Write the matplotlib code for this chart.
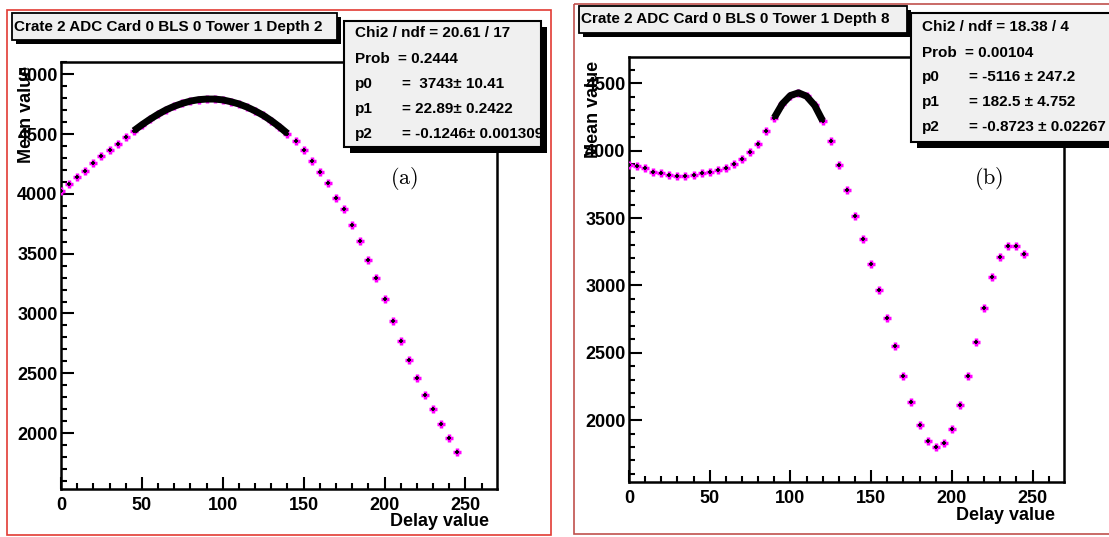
import matplotlib
matplotlib.use("Agg")
import matplotlib.pyplot as plt
from matplotlib.patches import Rectangle
from matplotlib.ticker import MultipleLocator

plt.rcParams["font.family"] = ["Liberation Sans", "DejaVu Sans"]
plt.rcParams["font.weight"] = "bold"
plt.rcParams["mathtext.fontset"] = "cm"

# ---- data ----
delay = list(range(0, 250, 5))

mean_a = [4025, 4083, 4142, 4194, 4256, 4314, 4364, 4419, 4472, 4528,
          4578, 4624, 4666, 4703, 4733, 4757, 4776, 4788, 4793, 4793,
          4786, 4771, 4752, 4726, 4694, 4657, 4612, 4561, 4505,
          4442, 4367, 4278, 4181, 4089, 3969, 3872, 3739, 3608, 3450,
          3294, 3122, 2939, 2767, 2611, 2458, 2319, 2197, 2072, 1956, 1844]

mean_b = [3895, 3889, 3869, 3844, 3832, 3819, 3812, 3812, 3822, 3834,
          3842, 3857, 3874, 3899, 3938, 3988, 4047, 4150,
          4245, 4348, 4410, 4430, 4405, 4337, 4222,
          4072, 3895, 3710, 3515, 3345, 3159, 2966, 2760, 2550, 2327,
          2136, 1963, 1846, 1802, 1827, 1931, 2111, 2327, 2577, 2829,
          3060, 3214, 3295, 3295, 3233]

fit_range_a = (45, 140)
fit_range_b = (90, 120)

titles = ["Crate 2 ADC Card 0 BLS 0 Tower 1 Depth 2",
          "Crate 2 ADC Card 0 BLS 0 Tower 1 Depth 8"]
stats_a = [("Chi2 / ndf = 20.61 / 17", ""), ("Prob", "= 0.2444"),
           ("p0", "=  3743\u00b1 10.41"), ("p1", "= 22.89\u00b1 0.2422"),
           ("p2", "= -0.1246\u00b1 0.001309")]
stats_b = [("Chi2 / ndf = 18.38 / 4", ""), ("Prob", "= 0.00104"),
           ("p0", "= -5116 \u00b1 247.2"), ("p1", "= 182.5 \u00b1 4.752"),
           ("p2", "= -0.8723 \u00b1 0.02267")]

W, H = 1109, 537
fig = plt.figure(figsize=(W / 100, H / 100), dpi=100)


def px_axes(l, t, r, b):
    return fig.add_axes([l / W, 1 - b / H, (r - l) / W, (b - t) / H])


def draw_panel(ax, y, fit_range, ylim):
    ax.plot(delay, y, ls="none", marker="+", ms=6, mew=2.5, color="#ff00ff", zorder=3)
    ax.plot(delay, y, ls="none", marker="+", ms=3, mew=1.3, color="black", zorder=4)
    fx = [d for d in delay if fit_range[0] <= d <= fit_range[1]]
    fy = [v for d, v in zip(delay, y) if fit_range[0] <= d <= fit_range[1]]
    ax.plot(fx, fy, color="black", lw=5, solid_capstyle="butt", zorder=5)
    ax.set_xlim(0, 269.5)
    ax.set_ylim(*ylim)
    ax.xaxis.set_major_locator(MultipleLocator(50))
    ax.xaxis.set_minor_locator(MultipleLocator(10))
    ax.yaxis.set_major_locator(MultipleLocator(500))
    ax.yaxis.set_minor_locator(MultipleLocator(100))
    ax.tick_params(which="both", direction="in", width=1.5, top=False, right=False)
    ax.tick_params(which="major", length=9)
    ax.tick_params(which="minor", length=4.5)
    ax.tick_params(axis="x", which="major", pad=6, labelsize=13)
    ax.tick_params(axis="y", which="major", pad=2.5, labelsize=13)
    for lab in ax.get_xticklabels() + ax.get_yticklabels():
        lab.set_fontweight("bold")
    for s in ax.spines.values():
        s.set_linewidth(1.8)


ax_a = px_axes(61, 62, 497, 489)
draw_panel(ax_a, mean_a, fit_range_a, (1532, 5103))
ax_b = px_axes(629, 57, 1064, 482)
draw_panel(ax_b, mean_b, fit_range_b, (1540, 4696))

# overlay in pixel coordinates for frames, boxes and titles
ov = fig.add_axes([0, 0, 1, 1], zorder=10)
ov.set_xlim(0, W)
ov.set_ylim(H, 0)
ov.axis("off")

ov.add_patch(Rectangle((7, 10), 544, 525, fill=False, ec="#e23b34", lw=1.2))
ov.add_patch(Rectangle((574, 4), 560, 530, fill=False, ec="#c0504d", lw=1.2))


def title_box(x, y, w, h, text):
    ov.add_patch(Rectangle((x + 4, y + 4), w, h, fc="black", ec="none"))
    ov.add_patch(Rectangle((x, y), w, h, fc="#f0f0f0", ec="black", lw=1.3))
    ov.text(x + 2, y + h / 2, text, fontsize=11, fontweight="bold", ha="left", va="center")


def stats_box(x, y, w, h, rows, row_y, x_name, x_val):
    ov.add_patch(Rectangle((x + 6, y + 6), w, h, fc="black", ec="none"))
    box = Rectangle((x, y), w, h, fc="#f0f0f0", ec="black", lw=1.5)
    ov.add_patch(box)
    for (name, val), yy in zip(rows, row_y):
        t1 = ov.text(x_name, yy, name, fontsize=11, fontweight="bold", ha="left", va="center")
        t1.set_clip_path(box)
        if val:
            t2 = ov.text(x_val if name != "Prob" else x_val - 4, yy, val, fontsize=11,
                         fontweight="bold", ha="left", va="center")
            t2.set_clip_path(box)


title_box(12, 13, 325, 27, titles[0])
title_box(579, 6, 328, 27, titles[1])
stats_box(344, 21, 197, 126, stats_a, [33, 59, 84, 109, 134], 355, 402)
stats_box(911, 13, 220, 129, stats_b, [27, 53, 77, 102, 127], 922, 969)

ov.text(404, 179, r"$\mathrm{(a)}$", fontsize=16, ha="center", va="center")
ov.text(989, 179, r"$\mathrm{(b)}$", fontsize=16, ha="center", va="center")

ov.text(27, 66, "Mean value", fontsize=13, fontweight="bold", rotation=90, ha="center", va="top")
ov.text(594, 61, "Mean value", fontsize=13, fontweight="bold", rotation=90, ha="center", va="top")
ov.text(489, 521, "Delay value", fontsize=13, fontweight="bold", ha="right", va="center")
ov.text(1055, 516, "Delay value", fontsize=13, fontweight="bold", ha="right", va="center")

fig.savefig("out.png", dpi=100)
